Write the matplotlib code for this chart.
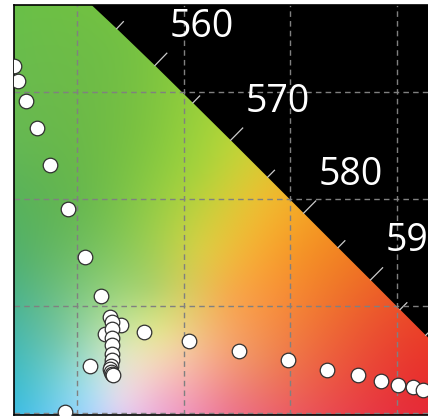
import numpy as np
import matplotlib
matplotlib.use("Agg")
import matplotlib.pyplot as plt
from matplotlib.patches import Polygon

# CIE 1931 spectral locus (nm, x, y)
wl = [520, 525, 530, 535, 540, 545, 550, 555, 560, 565, 570, 575, 580,
      585, 590, 595, 600, 605, 610, 620, 630, 650, 700]
loc_x = [0.0743, 0.1142, 0.1547, 0.1929, 0.2296, 0.2658, 0.3016, 0.3373,
         0.3731, 0.4087, 0.4441, 0.4788, 0.5125, 0.5448, 0.5752, 0.6029,
         0.6270, 0.6482, 0.6658, 0.6915, 0.7079, 0.7260, 0.7347]
loc_y = [0.8338, 0.8262, 0.8059, 0.7816, 0.7543, 0.7243, 0.6923, 0.6589,
         0.6245, 0.5896, 0.5547, 0.5202, 0.4866, 0.4544, 0.4242, 0.3965,
         0.3725, 0.3514, 0.3340, 0.3083, 0.2920, 0.2740, 0.2653]
label_wl = [560, 570, 580, 590]

# measured chromaticities
pt_x = [0.241, 0.245, 0.252, 0.263, 0.275, 0.292, 0.308, 0.323,
        0.331, 0.341, 0.326, 0.333, 0.333, 0.333, 0.333, 0.333, 0.333,
        0.332, 0.331, 0.332, 0.333, 0.334,
        0.363, 0.405, 0.312, 0.289,
        0.452, 0.498, 0.534, 0.563, 0.585, 0.601, 0.615, 0.624]
pt_y = [0.624, 0.610, 0.591, 0.566, 0.532, 0.490, 0.446, 0.409,
        0.390, 0.382, 0.374, 0.385, 0.378, 0.370, 0.363, 0.355, 0.349,
        0.344, 0.341, 0.338, 0.336, 0.335,
        0.376, 0.367, 0.344, 0.301,
        0.358, 0.349, 0.340, 0.335, 0.330, 0.326, 0.324, 0.321]

xmin, xmax = 0.241, 0.66
ymin, ymax = 0.298, 0.681

# background colour samples (x, y) -> rgb, smoothed with a thin plate spline
bg_xy = np.array([
    [0.265, 0.658], [0.340, 0.639], [0.359, 0.564], [0.415, 0.527],
    [0.453, 0.546], [0.472, 0.499], [0.509, 0.452], [0.547, 0.424],
    [0.593, 0.387], [0.621, 0.331], [0.509, 0.312], [0.443, 0.307],
    [0.378, 0.312], [0.340, 0.312], [0.312, 0.317], [0.256, 0.312],
    [0.247, 0.378], [0.256, 0.443], [0.303, 0.499], [0.368, 0.415],
    [0.340, 0.359], [0.397, 0.359], [0.443, 0.406], [0.415, 0.452],
    [0.284, 0.368], [0.378, 0.378], [0.230, 0.560], [0.660, 0.300],
    [0.470, 0.350]])
bg_rgb = np.array([
    [108, 190, 72], [115, 192, 68], [125, 195, 65], [170, 210, 60],
    [195, 210, 55], [235, 190, 50], [245, 150, 40], [240, 120, 40],
    [235, 80, 45], [232, 50, 48], [236, 95, 88], [238, 125, 140],
    [240, 180, 205], [225, 215, 235], [170, 220, 240], [80, 195, 220],
    [80, 185, 165], [90, 180, 110], [105, 185, 80], [175, 210, 110],
    [215, 230, 190], [242, 205, 160], [245, 170, 80], [215, 205, 70],
    [120, 200, 170], [225, 225, 140], [100, 185, 85], [230, 40, 50],
    [240, 140, 95]]) / 255.0


def tps_kernel(r):
    with np.errstate(divide="ignore", invalid="ignore"):
        k = r ** 2 * np.log(r)
    return np.nan_to_num(k)


def tps_fit(p, v, smooth=1e-4):
    n = len(p)
    d = np.hypot(p[:, None, 0] - p[None, :, 0], p[:, None, 1] - p[None, :, 1])
    K = tps_kernel(d) + smooth * np.eye(n)
    P = np.hstack([np.ones((n, 1)), p])
    A = np.zeros((n + 3, n + 3))
    A[:n, :n] = K
    A[:n, n:] = P
    A[n:, :n] = P.T
    rhs = np.vstack([v, np.zeros((3, v.shape[1]))])
    return np.linalg.solve(A, rhs)


def tps_eval(p, w, q):
    n = len(p)
    d = np.hypot(q[:, None, 0] - p[None, :, 0], q[:, None, 1] - p[None, :, 1])
    P = np.hstack([np.ones((len(q), 1)), q])
    return tps_kernel(d) @ w[:n] + P @ w[n:]


w = tps_fit(bg_xy, bg_rgb)
gx, gy = np.meshgrid(np.linspace(xmin, xmax, 300), np.linspace(ymin, ymax, 300))
q = np.column_stack([gx.ravel(), gy.ravel()])
img = np.clip(tps_eval(bg_xy, w, q), 0, 1).reshape(gx.shape + (3,))

fig = plt.figure(figsize=(4.28, 4.18), dpi=100)
ax = fig.add_axes([14 / 428, 3 / 418, 447 / 428, 410 / 418])
ax.set_facecolor("black")

poly = list(zip(loc_x, loc_y)) + [(0.7347, 0.0), (0.0, 0.0), (0.0, 0.8338)]
clip = Polygon(poly, closed=True, transform=ax.transData, facecolor="none", edgecolor="none")
ax.add_patch(clip)
im = ax.imshow(img, extent=[xmin, xmax, ymin, ymax], origin="lower",
               interpolation="bilinear", aspect="auto", zorder=0)
im.set_clip_path(clip)

# wavelength ticks and labels
lx = np.array(loc_x)
ly = np.array(loc_y)
for i, wv in enumerate(wl):
    if wv < 550 or wv > 600:
        continue
    dx = lx[i + 1] - lx[i - 1]
    dy = ly[i + 1] - ly[i - 1]
    n = np.array([-dy, dx]) / np.hypot(dx, dy)
    if n[0] < 0:
        n = -n
    L = 0.016 if wv % 10 == 0 else 0.009
    ax.plot([lx[i], lx[i] + n[0] * L], [ly[i], ly[i] + n[1] * L],
            color="#cccccc", lw=0.9, zorder=1)
    if wv in label_wl:
        ax.text(lx[i] + 0.014, ly[i] + 0.036, str(wv), color="white",
                fontsize=27, family="Open Sans", ha="left", va="center", zorder=3)

ax.plot(pt_x, pt_y, "o", ms=10.5, mfc="white", mec="#303030", mew=0.9, zorder=4)

ax.set_xlim(xmin, xmax)
ax.set_ylim(ymin, ymax)
ax.set_xticks([0.3, 0.4, 0.5, 0.6])
ax.set_yticks([0.3, 0.4, 0.5, 0.6])
ax.tick_params(length=0, labelbottom=False, labelleft=False)
ax.grid(True, color="#808080", lw=1, linestyle=(0, (4, 3)))
for s in ax.spines.values():
    s.set_color("black")
    s.set_linewidth(1.2)

fig.savefig("out.png", dpi=100)
